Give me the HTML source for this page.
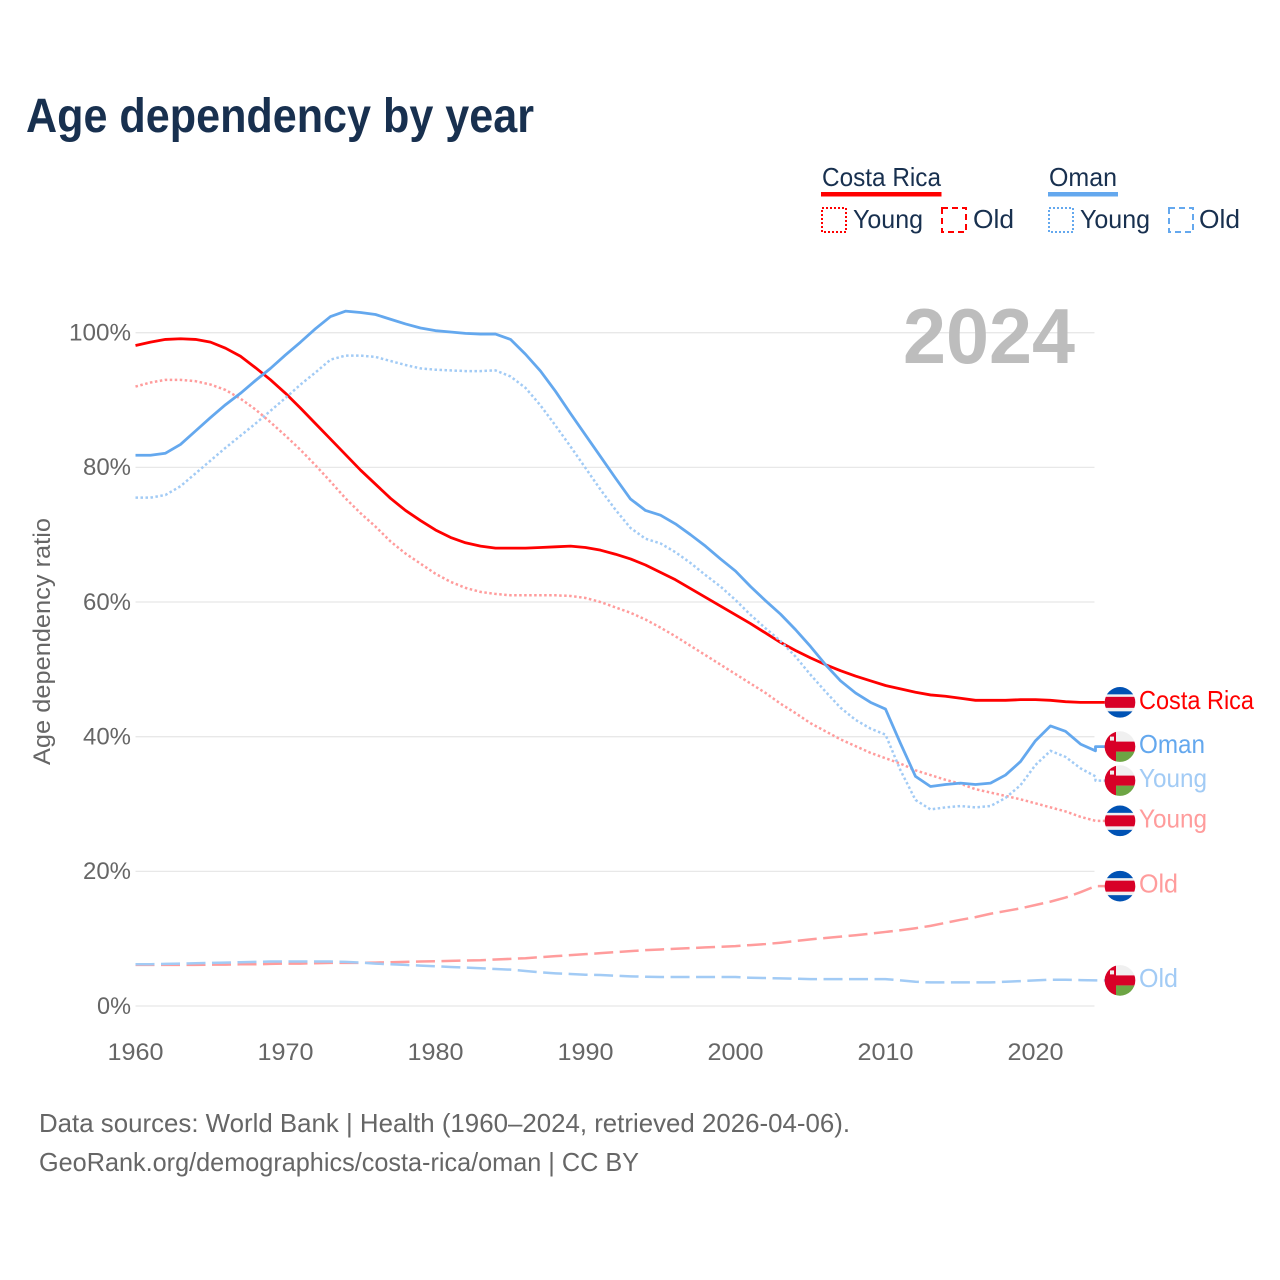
<!DOCTYPE html>
<html lang="en">
<head>
<meta charset="utf-8">
<title>Age dependency by year</title>
<style>
html,body{margin:0;padding:0;background:#fff;width:1280px;height:1280px;overflow:hidden}
svg{display:block}
text{font-family:"Liberation Sans",sans-serif}
</style>
</head>
<body>
<svg id="chart" xmlns="http://www.w3.org/2000/svg" width="1280" height="1280" viewBox="0 0 1280 1280">
  <rect x="0" y="0" width="1280" height="1280" fill="#fff"/>
  <text x="26" y="132" font-size="48" font-weight="700" fill="#18304f" textLength="508" lengthAdjust="spacingAndGlyphs">Age dependency by year</text>

  <g>
    <g>
      <text x="822" y="186" font-size="26" fill="#18304f" textLength="119" lengthAdjust="spacingAndGlyphs">Costa Rica</text>
      <rect x="821" y="192" width="120.500" height="4.500" fill="#ff0000"/>
      <rect x="822" y="208" width="24" height="24" fill="none" stroke="#ff0000" stroke-width="2" stroke-dasharray="2 2"/>
      <text x="853" y="228" font-size="26" fill="#18304f" textLength="70" lengthAdjust="spacingAndGlyphs">Young</text>
      <rect x="942" y="208" width="24" height="24" fill="none" stroke="#ff0000" stroke-width="2" stroke-dasharray="6 4"/>
      <text x="973" y="228" font-size="26" fill="#18304f" textLength="41" lengthAdjust="spacingAndGlyphs">Old</text>
    </g>
    <g>
      <text x="1049" y="186" font-size="26" fill="#18304f" textLength="68" lengthAdjust="spacingAndGlyphs">Oman</text>
      <rect x="1048" y="192" width="70" height="4.500" fill="#64a8ee"/>
      <rect x="1049" y="208" width="24" height="24" fill="none" stroke="#64a8ee" stroke-width="2" stroke-dasharray="2 2"/>
      <text x="1080" y="228" font-size="26" fill="#18304f" textLength="70" lengthAdjust="spacingAndGlyphs">Young</text>
      <rect x="1169" y="208" width="24" height="24" fill="none" stroke="#64a8ee" stroke-width="2" stroke-dasharray="6 4"/>
      <text x="1199" y="228" font-size="26" fill="#18304f" textLength="41" lengthAdjust="spacingAndGlyphs">Old</text>
    </g>
  </g>

  <g id="grid"></g>
  <text x="1075" y="363" text-anchor="end" font-size="78" font-weight="700" fill="#bdbdbd" textLength="172" lengthAdjust="spacingAndGlyphs">2024</text>
  <g id="y-axis"></g>
  <g id="x-axis"></g>
  <text transform="translate(50 641.500) rotate(-90)" text-anchor="middle" font-size="24" fill="#666666" textLength="247" lengthAdjust="spacingAndGlyphs">Age dependency ratio</text>
  <g id="series"></g>
  <g id="end-labels"></g>

  <g>
    <text x="39" y="1132" font-size="26" fill="#666666" textLength="811" lengthAdjust="spacingAndGlyphs">Data sources: World Bank | Health (1960–2024, retrieved 2026-04-06).</text>
    <text x="39" y="1171" font-size="26" fill="#666666" textLength="600" lengthAdjust="spacingAndGlyphs">GeoRank.org/demographics/costa-rica/oman | CC BY</text>
  </g>
</svg>

<script>
const years = [
  1960,1961,1962,1963,1964,1965,1966,1967,1968,1969,
  1970,1971,1972,1973,1974,1975,1976,1977,1978,1979,
  1980,1981,1982,1983,1984,1985,1986,1987,1988,1989,
  1990,1991,1992,1993,1994,1995,1996,1997,1998,1999,
  2000,2001,2002,2003,2004,2005,2006,2007,2008,2009,
  2010,2011,2012,2013,2014,2015,2016,2017,2018,2019,
  2020,2021,2022,2023,2024
];
const costaRicaTotal = [
  98.1,98.6,99.0,99.1,99.0,98.6,97.7,96.5,94.8,93.0,
  91.0,88.8,86.5,84.2,81.9,79.6,77.5,75.4,73.6,72.1,
  70.7,69.6,68.8,68.3,68.0,68.0,68.0,68.1,68.2,68.3,
  68.1,67.7,67.1,66.4,65.5,64.4,63.3,62.0,60.7,59.4,
  58.1,56.8,55.4,54.0,52.8,51.7,50.7,49.8,49.0,48.3,
  47.6,47.1,46.6,46.2,46.0,45.7,45.4,45.4,45.4,45.5,
  45.5,45.4,45.2,45.1,45.1
];
const costaRicaYoung = [
  92.0,92.6,93.0,93.0,92.8,92.3,91.5,90.2,88.6,86.7,
  84.7,82.6,80.3,77.9,75.4,73.2,71.2,69.0,67.2,65.7,
  64.2,63.0,62.1,61.5,61.2,61.0,61.0,61.0,61.0,60.9,
  60.6,60.0,59.2,58.4,57.4,56.2,54.9,53.5,52.1,50.7,
  49.3,47.9,46.5,44.9,43.5,42.0,40.8,39.6,38.6,37.6,
  36.8,36.0,35.0,34.3,33.6,33.0,32.2,31.7,31.2,30.7,
  30.1,29.5,28.9,28.1,27.5
];
const costaRicaOld = [
  6.1,6.1,6.1,6.1,6.1,6.15,6.15,6.2,6.2,6.25,
  6.3,6.3,6.35,6.4,6.4,6.4,6.45,6.5,6.55,6.6,
  6.65,6.7,6.75,6.8,6.9,7.0,7.1,7.25,7.4,7.55,
  7.7,7.85,8.0,8.15,8.3,8.4,8.5,8.6,8.7,8.8,
  8.9,9.05,9.2,9.4,9.65,9.9,10.1,10.3,10.5,10.75,
  11.0,11.25,11.55,11.9,12.35,12.8,13.2,13.7,14.1,14.5,
  15.0,15.5,16.1,16.9,17.8
];
const omanTotal = [
  81.8,81.8,82.1,83.4,85.4,87.4,89.3,91.0,92.9,94.7,
  96.7,98.6,100.6,102.4,103.2,103.0,102.7,102.0,101.3,100.7,
  100.3,100.1,99.9,99.8,99.8,99.0,96.8,94.3,91.3,88.0,
  84.8,81.6,78.4,75.3,73.6,72.9,71.6,70.0,68.3,66.4,
  64.6,62.3,60.2,58.2,55.9,53.4,50.7,48.3,46.5,45.1,
  44.1,39.0,34.1,32.6,32.9,33.1,32.9,33.1,34.3,36.3,
  39.4,41.6,40.8,38.9,37.9
];
const omanYoung = [
  75.5,75.5,75.9,77.2,79.1,81.0,82.9,84.7,86.5,88.4,
  90.3,92.3,94.1,96.0,96.6,96.6,96.4,95.8,95.2,94.7,
  94.5,94.4,94.3,94.3,94.4,93.5,91.8,89.2,86.2,83.1,
  79.9,76.7,73.7,71.0,69.4,68.7,67.4,65.8,64.0,62.3,
  60.3,58.1,56.1,54.2,51.9,49.2,46.7,44.3,42.5,41.2,
  40.3,35.0,30.6,29.2,29.5,29.7,29.5,29.7,30.9,32.8,
  35.8,37.9,37.0,35.3,34.1
];
const omanOld = [
  6.2,6.2,6.25,6.3,6.35,6.4,6.45,6.5,6.55,6.6,
  6.6,6.6,6.6,6.6,6.55,6.45,6.3,6.2,6.1,6.0,
  5.9,5.8,5.7,5.6,5.5,5.4,5.2,5.0,4.85,4.75,
  4.65,4.6,4.5,4.4,4.35,4.3,4.3,4.3,4.3,4.3,
  4.3,4.2,4.15,4.1,4.05,4.0,4.0,4.0,4.0,4.0,
  4.0,3.8,3.6,3.5,3.5,3.5,3.5,3.5,3.6,3.7,
  3.8,3.9,3.9,3.85,3.8
];
const yTickValues = [0,20,40,60,80,100];
const xTickValues = [1960,1970,1980,1990,2000,2010,2020];

const NS = 'http://www.w3.org/2000/svg';
const RED = '#ff0000', BLUE = '#64a8ee', RED_SOFT = '#ff9c9c', BLUE_SOFT = '#a2cbf5';
const SOLID = null, DOTTED = '2.5 2.5', DASHED = '19 6.5';
const PLOT_LEFT = 135.5, PLOT_RIGHT = 1095.5, Y_ZERO = 1006, Y_HUNDRED = 332.7;
const LABEL_MIN_GAP = 34, LEADER_END = 1106, FLAG_X = 1120, LABEL_X = 1139;

function xScale(year) {
  return PLOT_LEFT + (year - years[0]) / (years[years.length - 1] - years[0]) * (PLOT_RIGHT - PLOT_LEFT);
}
function yScale(value) {
  return Y_ZERO + (Y_HUNDRED - Y_ZERO) * value / 100;
}
function make(tag, attrs, parent) {
  const el = document.createElementNS(NS, tag);
  for (const key in attrs) el.setAttribute(key, attrs[key]);
  parent.appendChild(el);
  return el;
}

const gridLayer = document.getElementById('grid');
const yAxisLayer = document.getElementById('y-axis');
yTickValues.forEach(function (tick) {
  const y = yScale(tick);
  const line = make('line', {x1: PLOT_LEFT, x2: PLOT_RIGHT - 1, y1: y, y2: y, stroke: '#e8e8e8', 'stroke-width': 1.3}, gridLayer);
  
  
  const label = make('text', {x: 131, y: y + 7.8, 'text-anchor': 'end', 'font-size': 24, fill: '#666666', textLength: 14 * String(tick).length + 20, lengthAdjust: 'spacingAndGlyphs'}, yAxisLayer);
  label.textContent = tick + '%';
  
  
});

const xAxisLayer = document.getElementById('x-axis');
xTickValues.forEach(function (tick) {
  const label = make('text', {x: xScale(tick), y: 1060, 'text-anchor': 'middle', 'font-size': 24, fill: '#666666', textLength: 56, lengthAdjust: 'spacingAndGlyphs'}, xAxisLayer);
  label.textContent = tick;
  
  
});

const seriesList = [
  {id: 'costa-rica-young', label: 'Young', labelWidth: 68, country: 'cr', color: RED_SOFT, dash: DOTTED, width: 2.5, values: costaRicaYoung},
  {id: 'costa-rica-old', label: 'Old', labelWidth: 39, country: 'cr', color: RED_SOFT, dash: DASHED, width: 2.5, values: costaRicaOld},
  {id: 'costa-rica-total', label: 'Costa Rica', labelWidth: 115, country: 'cr', color: RED, dash: SOLID, width: 2.8, values: costaRicaTotal},
  {id: 'oman-young', label: 'Young', labelWidth: 68, country: 'om', color: BLUE_SOFT, dash: DOTTED, width: 2.5, values: omanYoung},
  {id: 'oman-old', label: 'Old', labelWidth: 39, country: 'om', color: BLUE_SOFT, dash: DASHED, width: 2.5, values: omanOld},
  {id: 'oman-total', label: 'Oman', labelWidth: 66, country: 'om', color: BLUE, dash: SOLID, width: 2.8, values: omanTotal}
];

/* End-label positions: start at each series' last value, then push overlapping neighbours apart. */
const placed = seriesList.map(function (s) {
  return {series: s, y: yScale(s.values[s.values.length - 1])};
}).sort(function (a, b) { return a.y - b.y; });
for (let pass = 0; pass < 20; pass++) {
  for (let i = 1; i < placed.length; i++) {
    const overlap = LABEL_MIN_GAP - (placed[i].y - placed[i - 1].y);
    if (overlap > 0) {
      placed[i - 1].y -= overlap / 2;
      placed[i].y += overlap / 2;
    }
  }
}
const labelYById = {};
placed.forEach(function (p) { labelYById[p.series.id] = p.y; });

const seriesLayer = document.getElementById('series');
seriesList.forEach(function (s) {
  let d = s.values.map(function (v, i) {
    return (i ? 'L' : 'M') + xScale(years[i]).toFixed(2) + ' ' + yScale(v).toFixed(2);
  }).join(' ');
  const labelY = labelYById[s.id];
  d += ' L' + PLOT_RIGHT + ' ' + labelY.toFixed(2) + ' L' + LEADER_END + ' ' + labelY.toFixed(2);
  const attrs = {d: d, fill: 'none', stroke: s.color, 'stroke-width': s.width, 'stroke-linejoin': 'round'};
  if (s.dash) attrs['stroke-dasharray'] = s.dash;
  const path = make('path', attrs, seriesLayer);
  
  
});

function drawFlag(parent, country, cy, clipId) {
  const group = make('g', {transform: 'translate(' + FLAG_X + ' ' + cy.toFixed(2) + ')'}, parent);
  const clip = make('clipPath', {id: clipId}, group);
  make('circle', {cx: 0, cy: 0, r: 15.3}, clip);
  const art = make('g', {'clip-path': 'url(#' + clipId + ')'}, group);
  make('rect', {x: -16, y: -16, width: 32, height: 32, fill: '#f0f0f0'}, art);
  if (country === 'cr') {
    make('rect', {x: -16, y: -16, width: 32, height: 8, fill: '#0052b4'}, art);
    make('rect', {x: -16, y: 9, width: 32, height: 8, fill: '#0052b4'}, art);
    make('rect', {x: -16, y: -5.500, width: 32, height: 11, fill: '#d80027'}, art);
  } else {
    make('rect', {x: -16, y: 5, width: 32, height: 11, fill: '#6da544'}, art);
    make('rect', {x: -16, y: -16, width: 12, height: 32, fill: '#d80027'}, art);
    make('rect', {x: -16, y: -5, width: 32, height: 10, fill: '#d80027'}, art);
    make('rect', {x: -10, y: -10, width: 4, height: 4, fill: '#f0f0f0'}, art);
  }
  return group;
}

const labelLayer = document.getElementById('end-labels');
seriesList.forEach(function (s) {
  const labelY = labelYById[s.id];
  const flag = drawFlag(labelLayer, s.country, labelY, 'clip-' + s.id);
  
  
  const label = make('text', {x: LABEL_X, y: labelY + 6.5, 'font-size': 26, fill: s.color, textLength: s.labelWidth, lengthAdjust: 'spacingAndGlyphs'}, labelLayer);
  label.textContent = s.label;
  
  
});
</script>
</body>
</html>
